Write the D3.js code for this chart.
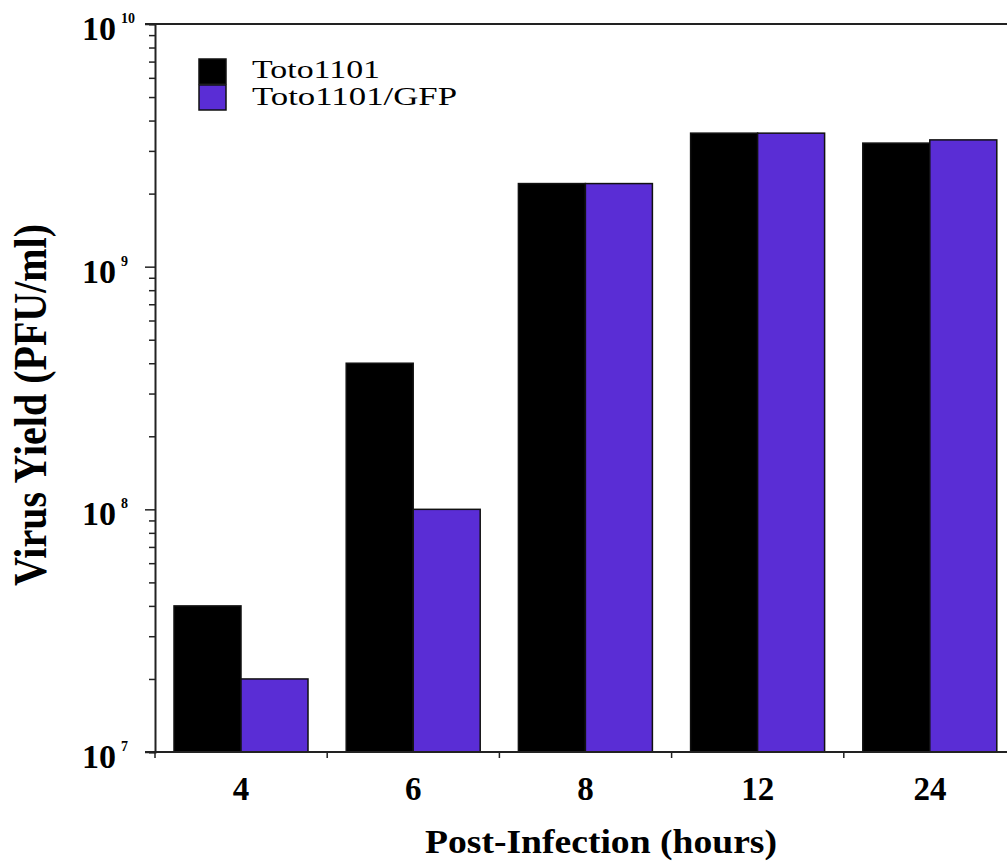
<!DOCTYPE html>
<html>
<head>
<meta charset="utf-8">
<script src="https://cdn.jsdelivr.net/npm/d3@7"></script>
<style>
  body { margin: 0; background: #fff; }
  svg { display: block; font-family: "Liberation Serif", "Times New Roman", serif; }
</style>
</head>
<body>
<svg id="chart"></svg>
<script>
// hours post-infection
const categories = ['4', '6', '8', '12', '24'];
const seriesNames = ['Toto1101', 'Toto1101/GFP'];
// virus yield, PFU/ml
const toto1101 = [4.0e7, 4.0e8, 2.2e9, 3.55e9, 3.23e9];
const toto1101GFP = [2.0e7, 1.0e8, 2.2e9, 3.55e9, 3.33e9];
const decades = [1e7, 1e8, 1e9, 1e10];

const colors = ['#000000', '#5a2dd5'];

function makeChart() {
  let w = 1007;
  let h = 864;

  let svg = d3.select('#chart')
    .attr('width', w)
    .attr('height', h);

  // plot runs past the right edge of the picture
  let xScale = d3.scaleBand()
    .domain(categories)
    .range([155, 1016]);

  let xInner = d3.scaleBand()
    .domain(seriesNames)
    .range([19, 153]);

  let yScale = d3.scaleLog()
    .domain([1e7, 1e10])
    .range([752, 24]);

  let rows = categories.map((c, i) => ({
    cat: c,
    values: [
      { name: seriesNames[0], v: toto1101[i], color: colors[0] },
      { name: seriesNames[1], v: toto1101GFP[i], color: colors[1] }
    ]
  }));

  // bars
  svg.selectAll('g.group')
    .data(rows)
    .enter()
    .append('g')
    .attr('class', 'group')
    .attr('transform', (d) => `translate(${xScale(d.cat)},0)`)
    .selectAll('rect')
    .data((d) => d.values)
    .enter()
    .append('rect')
    .attr('x', (d) => xInner(d.name))
    .attr('y', (d) => yScale(d.v))
    .attr('width', xInner.bandwidth())
    .attr('height', (d) => yScale(1e7) - yScale(d.v))
    .attr('fill', (d) => d.color)
    .attr('stroke', '#111')
    .attr('stroke-width', 1.5);

  // top border
  svg.append('line')
    .attr('x1', 145).attr('x2', w)
    .attr('y1', yScale(1e10)).attr('y2', yScale(1e10))
    .attr('stroke', '#222').attr('stroke-width', 2);

  // y axis with minor ticks
  let minor = [];
  for (let d = 7; d < 10; d++) {
    for (let m = 1; m < 10; m++) minor.push(m * Math.pow(10, d));
  }
  minor.push(1e10);

  let yAxis = svg.append('g')
    .attr('transform', 'translate(155,0)')
    .call(d3.axisLeft(yScale).tickValues(minor).tickSize(6).tickFormat(''));
  yAxis.select('.domain').attr('stroke', '#222').attr('stroke-width', 2);
  yAxis.selectAll('.tick line')
    .attr('stroke', '#222').attr('stroke-width', 1.5)
    .attr('x2', (d) => decades.includes(d) ? -10 : -6);

  // decade labels 10^n
  let labels = svg.append('g').selectAll('g')
    .data(decades)
    .enter()
    .append('g')
    .attr('transform', (d) => `translate(0,${yScale(d)})`);
  labels.append('text')
    .attr('x', 116).attr('y', 16)
    .attr('text-anchor', 'end')
    .attr('font-size', 34).attr('font-weight', 'bold')
    .text('10');
  labels.append('text')
    .attr('x', 121).attr('y', -1)
    .attr('font-size', 14).attr('font-weight', 'bold')
    .text((d) => Math.round(Math.log10(d)));

  // x axis, ticks at group boundaries
  let xAxis = svg.append('g')
    .attr('transform', 'translate(0,752)');
  xAxis.append('line')
    .attr('x1', 145).attr('x2', w)
    .attr('stroke', '#222').attr('stroke-width', 2);
  xAxis.selectAll('line.tick')
    .data(categories)
    .enter()
    .append('line')
    .attr('class', 'tick')
    .attr('x1', (d) => xScale(d)).attr('x2', (d) => xScale(d))
    .attr('y1', 0).attr('y2', 6)
    .attr('stroke', '#222').attr('stroke-width', 1.5);
  xAxis.selectAll('text')
    .data(categories)
    .enter()
    .append('text')
    .attr('x', (d) => xScale(d) + xScale.bandwidth() / 2)
    .attr('y', 48)
    .attr('text-anchor', 'middle')
    .attr('font-size', 33).attr('font-weight', 'bold')
    .text((d) => d);

  // axis titles (the original is a bit wider than tall)
  svg.append('text')
    .attr('x', 425).attr('y', 853)
    .attr('font-size', 33).attr('font-weight', 'bold')
    .attr('textLength', 352).attr('lengthAdjust', 'spacingAndGlyphs')
    .text('Post-Infection (hours)');

  svg.append('text')
    .attr('transform', 'translate(46,405) rotate(-90) scale(1,1.15)')
    .attr('text-anchor', 'middle')
    .attr('font-size', 40).attr('font-weight', 'bold')
    .text('Virus Yield (PFU/ml)');

  // legend
  let legend = svg.append('g').selectAll('g')
    .data(seriesNames)
    .enter()
    .append('g')
    .attr('transform', (d, i) => `translate(199,${59 + i * 26})`);
  legend.append('rect')
    .attr('width', 27).attr('height', 25)
    .attr('fill', (d, i) => colors[i])
    .attr('stroke', '#111').attr('stroke-width', 1.5);
  legend.append('text')
    .attr('transform', (d, i) => `translate(53,${19 + i})`)
    .attr('font-size', 26)
    .attr('textLength', (d, i) => i === 0 ? 128 : 205)
    .attr('lengthAdjust', 'spacingAndGlyphs')
    .text((d) => d);
}

window.onload = function () {
  makeChart();
}
</script>
</body>
</html>
